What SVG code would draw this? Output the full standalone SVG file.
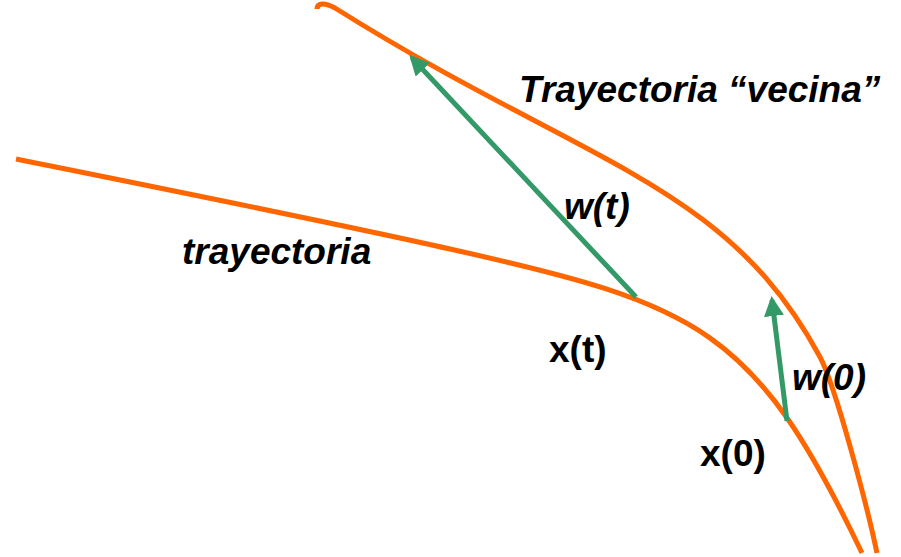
<svg xmlns="http://www.w3.org/2000/svg" width="901" height="557" viewBox="0 0 901 557">
<style>
.traj{fill:none;stroke:#ff6600;stroke-width:5;stroke-linecap:butt}
.vec{fill:none;stroke:#339966;stroke-width:5}
.lbl{font-family:"Liberation Sans",Arial,sans-serif;font-weight:bold;font-size:37px;fill:#000}
.it{font-style:italic}
</style>
<defs>
<marker id="ah" viewBox="0 0 10 10" refX="8" refY="5" markerWidth="4" markerHeight="4" orient="auto" markerUnits="strokeWidth">
<path d="M0,0 L10,5 L0,10 Z" fill="#339966"/>
</marker>
</defs>
<g id="curves">
<path id="trayectoria-curve" class="traj" d="M16,159 C150,186 330,222 450,249 C700,305 754.5,328 862,553"/>
<path id="vecina-curve" class="traj" d="M317,9 C317,3 324,2 335,8 C585,165 725,181 820,357 C836,387 868,510 877,553"/>
</g>
<g id="connectors">
<line class="vec" x1="636" y1="297" x2="412" y2="58" marker-end="url(#ah)"/>
<line class="vec" x1="787" y1="421" x2="772" y2="300" marker-end="url(#ah)"/>
</g>
<g id="labels">
<text class="lbl it" x="519" y="102">Trayectoria “vecina”</text>
<text class="lbl it" x="182" y="264">trayectoria</text>
<text class="lbl it" x="564" y="219">w(t)</text>
<text class="lbl" x="549" y="362">x(t)</text>
<text class="lbl it" x="792" y="390">w(0)</text>
<text class="lbl" x="700" y="466">x(0)</text>
</g>
</svg>
